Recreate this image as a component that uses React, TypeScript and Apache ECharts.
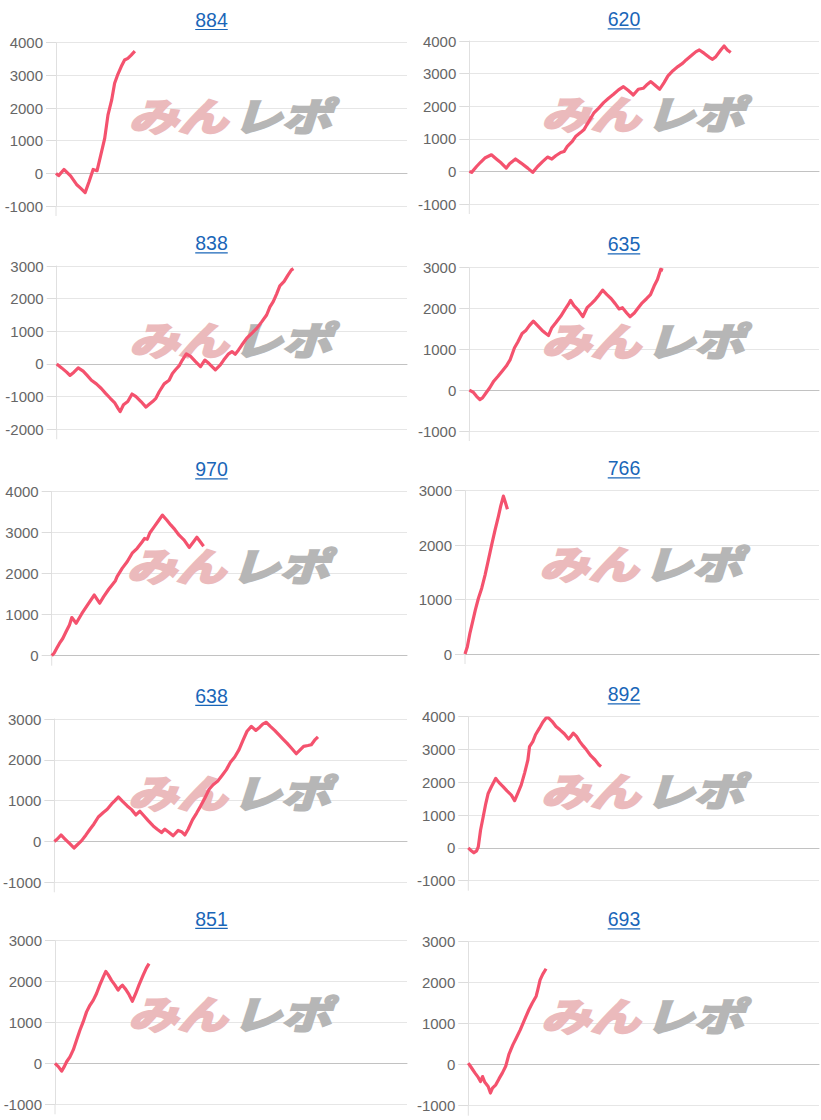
import React, { useEffect, useRef } from "react";
import * as echarts from "echarts";

// ---- data ----
const titles = ["884", "620", "838", "635", "970", "766", "638", "892", "851", "693"];
const yMins = [-1000, -1000, -2000, -1000, 0, 0, -1000, -1000, -1000, -1000];
const yMaxs = [4000, 4000, 3000, 3000, 4000, 3000, 3000, 4000, 3000, 3000];
const X_MAX = 8000;

const games884 = [0, 60, 181, 332, 468, 566, 664, 755, 846, 936, 1012, 1110, 1185, 1268, 1336, 1412, 1487, 1563, 1638, 1714, 1797];
const diff884 = [0, -70, 120, -80, -340, -460, -590, -250, 120, 80, 510, 1070, 1790, 2240, 2760, 3040, 3270, 3470, 3520, 3620, 3740];

const games620 = [0, 53, 166, 257, 355, 506, 619, 732, 846, 921, 1057, 1185, 1336, 1450, 1563, 1676, 1789, 1888, 1978, 2091, 2167, 2242, 2356, 2431, 2544, 2620, 2733, 2846, 2960, 3073, 3186, 3299, 3413, 3526, 3639, 3752, 3866, 3979, 4054, 4153, 4243, 4356, 4455, 4545, 4658, 4772, 4885, 4960, 5074, 5187, 5262, 5376, 5489, 5564, 5640, 5753, 5829, 5904, 5980];
const diff620 = [0, -30, 150, 280, 410, 510, 380, 255, 100, 235, 380, 255, 100, -30, 150, 300, 440, 380, 480, 580, 610, 765, 920, 1070, 1190, 1275, 1530, 1785, 1940, 2110, 2245, 2365, 2500, 2600, 2480, 2345, 2520, 2550, 2650, 2755, 2650, 2520, 2725, 2930, 3090, 3215, 3320, 3420, 3545, 3675, 3725, 3620, 3500, 3440, 3520, 3725, 3850, 3725, 3645];

const games838 = [0, 113, 227, 302, 393, 491, 604, 695, 793, 906, 1019, 1117, 1223, 1321, 1397, 1450, 1525, 1623, 1721, 1812, 1925, 2039, 2099, 2190, 2265, 2341, 2454, 2567, 2643, 2718, 2794, 2869, 2960, 3058, 3171, 3284, 3382, 3473, 3624, 3737, 3813, 3926, 4002, 4077, 4153, 4228, 4341, 4455, 4568, 4681, 4794, 4870, 4945, 5021, 5096, 5194, 5285, 5361, 5406];
const diff838 = [0, -120, -250, -350, -250, -120, -220, -350, -500, -610, -750, -900, -1050, -1180, -1350, -1460, -1250, -1150, -920, -1000, -1150, -1320, -1250, -1150, -1050, -850, -610, -500, -290, -170, -60, 120, 310, 230, 70, -80, 120, 20, -180, -30, 120, 310, 380, 300, 430, 580, 790, 940, 1090, 1290, 1500, 1750, 1910, 2140, 2390, 2530, 2730, 2880, 2920];

const games635 = [0, 91, 166, 242, 302, 393, 468, 559, 657, 755, 846, 936, 1034, 1110, 1208, 1299, 1374, 1465, 1563, 1661, 1737, 1812, 1888, 1978, 2091, 2190, 2265, 2318, 2393, 2492, 2597, 2695, 2794, 2884, 2960, 3050, 3148, 3247, 3337, 3428, 3503, 3601, 3677, 3775, 3866, 3956, 4054, 4145, 4228, 4304, 4379, 4432];
const diff635 = [0, -50, -150, -230, -190, -50, 60, 220, 340, 470, 590, 750, 1040, 1180, 1390, 1470, 1580, 1690, 1580, 1470, 1400, 1340, 1530, 1650, 1810, 1980, 2100, 2200, 2070, 1960, 1800, 2020, 2120, 2220, 2320, 2450, 2340, 2240, 2120, 1990, 2020, 1890, 1800, 1890, 2020, 2140, 2240, 2340, 2550, 2710, 2960, 2940];

const games970 = [0, 53, 113, 174, 249, 325, 400, 453, 551, 680, 808, 959, 1080, 1170, 1284, 1435, 1472, 1586, 1699, 1812, 1925, 2039, 2091, 2152, 2212, 2318, 2416, 2492, 2590, 2680, 2771, 2869, 2982, 3096, 3194, 3269, 3345, 3420];
const diff970 = [0, 60, 180, 300, 420, 590, 750, 930, 790, 1030, 1240, 1480, 1280, 1440, 1620, 1830, 1930, 2130, 2290, 2500, 2620, 2780, 2860, 2840, 3000, 3160, 3310, 3430, 3310, 3190, 3080, 2940, 2820, 2640, 2780, 2890, 2780, 2670];

const games766 = [0, 53, 113, 174, 234, 302, 378, 453, 529, 604, 680, 755, 808, 868, 906, 959];
const diff766 = [0, 135, 390, 600, 810, 1020, 1210, 1450, 1730, 2010, 2280, 2530, 2720, 2900, 2800, 2660];

const games638 = [0, 68, 151, 242, 355, 445, 521, 619, 717, 808, 898, 997, 1110, 1200, 1299, 1374, 1450, 1548, 1653, 1752, 1850, 1940, 2031, 2129, 2242, 2333, 2431, 2507, 2605, 2695, 2809, 2884, 2960, 3035, 3133, 3224, 3314, 3413, 3511, 3601, 3715, 3813, 3903, 3994, 4092, 4190, 4281, 4371, 4470, 4568, 4658, 4734, 4809, 4900, 4998, 5096, 5187, 5277, 5376, 5489, 5564, 5655, 5753, 5829, 5904, 5980];
const diff638 = [0, 60, 160, 60, -60, -160, -80, 20, 160, 300, 430, 600, 710, 790, 920, 1000, 1090, 980, 870, 780, 650, 740, 630, 510, 380, 300, 220, 300, 220, 140, 270, 240, 160, 300, 530, 690, 860, 1060, 1280, 1390, 1490, 1630, 1760, 1940, 2070, 2250, 2480, 2700, 2820, 2720, 2800, 2880, 2920, 2820, 2720, 2610, 2510, 2410, 2290, 2150, 2230, 2330, 2350, 2370, 2480, 2560];

const games892 = [0, 53, 128, 189, 227, 279, 340, 400, 453, 529, 627, 702, 793, 883, 982, 1057, 1133, 1208, 1284, 1359, 1397, 1472, 1533, 1623, 1699, 1774, 1835, 1910, 2001, 2091, 2190, 2288, 2341, 2393, 2469, 2544, 2620, 2695, 2794, 2892, 2982, 3028];
const diff892 = [0, -70, -150, -90, 30, 540, 950, 1360, 1660, 1870, 2120, 1990, 1870, 1740, 1610, 1440, 1680, 1920, 2280, 2680, 3090, 3240, 3450, 3650, 3830, 3960, 3960, 3860, 3700, 3600, 3480, 3320, 3400, 3500, 3400, 3240, 3110, 2990, 2810, 2680, 2530, 2480];

const games851 = [0, 76, 151, 211, 264, 340, 415, 491, 566, 642, 717, 793, 868, 944, 1019, 1095, 1155, 1208, 1284, 1359, 1435, 1487, 1533, 1608, 1684, 1759, 1835, 1910, 2001, 2076, 2137];
const diff851 = [0, -80, -190, -80, 40, 160, 330, 570, 810, 1020, 1260, 1420, 1540, 1710, 1920, 2110, 2250, 2170, 2030, 1920, 1790, 1870, 1910, 1810, 1680, 1520, 1710, 1920, 2150, 2330, 2440];

const games693 = [0, 76, 151, 227, 279, 325, 378, 453, 506, 551, 627, 702, 778, 853, 929, 1019, 1095, 1185, 1284, 1382, 1457, 1548, 1586, 1638, 1699, 1774];
const diff693 = [40, -80, -200, -310, -410, -290, -430, -530, -690, -570, -490, -340, -200, -40, 260, 490, 650, 850, 1100, 1340, 1500, 1670, 1830, 2070, 2210, 2340];

const gamesList = [games884, games620, games838, games635, games970, games766, games638, games892, games851, games693];
const diffList = [diff884, diff620, diff838, diff635, diff970, diff766, diff638, diff892, diff851, diff693];

// ---- layout (px) ----
const gridLeft = [56, 469.3, 56.7, 469.3, 51.7, 465, 54.3, 468.3, 55, 468.3];
const gridTop = [42.7, 41, 266, 267.7, 491.7, 490.7, 719, 716.7, 940.7, 941.7];
const gridRight = [407, 819, 407, 819, 407, 819, 407, 819, 407, 819];
const gridHeight = [163.3, 163, 163.3, 163.3, 164, 163.3, 163.3, 164, 163.6, 164];
const titleX = [211.5, 624, 211.5, 624, 211.5, 624, 211.5, 624, 211.5, 624];
const titleY = [19.7, 19, 243, 244, 469, 468, 695.5, 694, 918.5, 919];

const LINK = "#1a66b8";
const FONT = "'Liberation Sans', Arial, Helvetica, sans-serif";
const CJK = "'Noto Sans CJK JP', sans-serif";

export default function App() {
  const ref = useRef<HTMLDivElement>(null);
  useEffect(() => {
    const chart = echarts.init(ref.current!, null, { renderer: "svg" });
    const grid: any[] = [];
    const xAxis: any[] = [];
    const yAxis: any[] = [];
    const series: any[] = [];
    const elements: any[] = [];
    titles.forEach((t, i) => {
      const w = gridRight[i] - gridLeft[i];
      grid.push({ left: gridLeft[i], top: gridTop[i], width: w, height: gridHeight[i], containLabel: false });
      xAxis.push({
        type: "value", gridIndex: i, min: 0, max: X_MAX,
        axisLine: { show: true, onZero: true, lineStyle: { color: "#c2c2c2", width: 1 } },
        axisTick: { show: false }, axisLabel: { show: false }, splitLine: { show: false },
      });
      yAxis.push({
        type: "value", gridIndex: i, min: yMins[i], max: yMaxs[i], interval: 1000,
        axisLine: { show: true, lineStyle: { color: "#e0e0e0" } },
        axisTick: { show: true, length: 10, lineStyle: { color: "#dcdcdc" } },
        axisLabel: { color: "#666", fontSize: 15, margin: 13, fontFamily: FONT, formatter: (v: number) => String(v) },
        splitLine: { show: true, lineStyle: { color: "#e6e6e6", width: 1 } },
      });
      series.push({
        type: "line", xAxisIndex: i, yAxisIndex: i, z: 5,
        data: gamesList[i].map((g, k) => [g, diffList[i][k]]),
        showSymbol: false, symbol: "none",
        lineStyle: { color: "#f4526e", width: 3.2, join: "round" },
      });
      const fs = 19.5;
      const tw = t.length * 0.556 * fs;
      elements.push({
        type: "text", z: 10,
        style: { text: t, x: titleX[i], y: titleY[i], fill: LINK, fontSize: fs, fontFamily: FONT, align: "center", verticalAlign: "middle" },
      });
      elements.push({
        type: "line", z: 10,
        shape: { x1: titleX[i] - tw / 2, y1: titleY[i] + 9.8, x2: titleX[i] + tw / 2, y2: titleY[i] + 9.8 },
        style: { stroke: LINK, lineWidth: 1.2 },
      });
      const cx = gridLeft[i] + w / 2;
      const cy = gridTop[i] + gridHeight[i] / 2 - 10;
      elements.push({
        type: "text", z: 1, silent: true, x: cx - 4, y: cy, scaleX: 1.1, scaleY: 0.86,
        style: { text: "みん", x: 0, y: 0, fill: "#ebbabc", stroke: "#ebbabc", lineWidth: 3, fontSize: 45, fontWeight: "bold", fontStyle: "italic", fontFamily: CJK, align: "right", verticalAlign: "middle" },
      });
      elements.push({
        type: "text", z: 1, silent: true, x: cx + 1, y: cy, scaleX: 1.1, scaleY: 0.86,
        style: { text: "レポ", x: 0, y: 0, fill: "#b6b6b6", stroke: "#b6b6b6", lineWidth: 3, fontSize: 45, fontWeight: "bold", fontStyle: "italic", fontFamily: CJK, align: "left", verticalAlign: "middle" },
      });
      elements.push({
        type: "line", z: 2,
        shape: { x1: gridLeft[i], y1: gridTop[i] + gridHeight[i], x2: gridLeft[i], y2: gridTop[i] + gridHeight[i] + 10 },
        style: { stroke: "#e0e0e0", lineWidth: 1 },
      });
    });
    chart.setOption({
      animation: false,
      backgroundColor: "#ffffff",
      grid, xAxis, yAxis, series,
      graphic: { elements },
    });
    return () => chart.dispose();
  }, []);
  return <div ref={ref} style={{ position: "absolute", left: 0, top: 0, width: 821, height: 1120 }} />;
}
